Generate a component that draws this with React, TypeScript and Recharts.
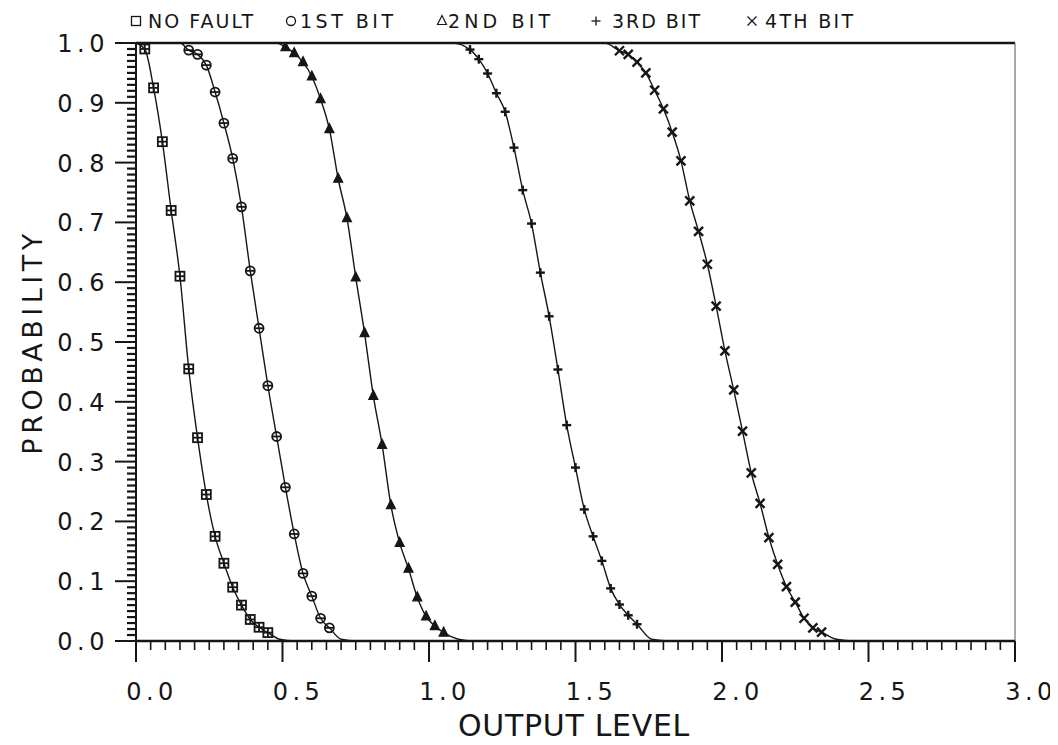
import React from 'react';
import { LineChart, Line, XAxis, YAxis, ReferenceLine } from 'recharts';

// tick labels
const xTickLabels = ['0.0', '0.5', '1.0', '1.5', '2.0', '2.5', '3.0'];
const yTickLabels = ['0.0', '0.1', '0.2', '0.3', '0.4', '0.5', '0.6', '0.7', '0.8', '0.9', '1.0'];
const xMinorTicks = Array.from({ length: 61 }, (_, i) => Number((i * 0.05).toFixed(2)));
const yMinorTicks = Array.from({ length: 101 }, (_, i) => Number((i * 0.01).toFixed(2)));

// NO FAULT (square markers)
const noFaultX = [0.03, 0.06, 0.09, 0.12, 0.15, 0.18, 0.21, 0.24, 0.27, 0.3, 0.33, 0.36, 0.39, 0.42, 0.45];
const noFaultY = [0.99, 0.925, 0.835, 0.72, 0.61, 0.455, 0.34, 0.245, 0.175, 0.13, 0.09, 0.06, 0.036, 0.023, 0.014];
const noFaultHead = [[0, 1]];
const noFaultTail = [[0.49, 0.003], [0.54, 0], [3, 0]];

// 1ST BIT (circle markers)
const bit1X = [0.18, 0.21, 0.24, 0.27, 0.3, 0.33, 0.36, 0.39, 0.42, 0.45, 0.48, 0.51, 0.54, 0.57, 0.6, 0.63, 0.66];
const bit1Y = [0.988, 0.981, 0.963, 0.918, 0.866, 0.807, 0.726, 0.619, 0.523, 0.427, 0.342, 0.257, 0.179, 0.113, 0.075, 0.038, 0.022];
const bit1Head = [[0, 1], [0.15, 1]];
const bit1Tail = [[0.7, 0.003], [0.75, 0], [3, 0]];

// 2ND BIT (triangle markers)
const bit2X = [0.51, 0.54, 0.57, 0.6, 0.63, 0.66, 0.69, 0.72, 0.75, 0.78, 0.81, 0.84, 0.87, 0.9, 0.93, 0.96, 0.99, 1.02, 1.05];
const bit2Y = [0.993, 0.983, 0.968, 0.944, 0.906, 0.856, 0.773, 0.707, 0.608, 0.515, 0.41, 0.328, 0.227, 0.164, 0.121, 0.073, 0.041, 0.025, 0.014];
const bit2Head = [[0, 1], [0.48, 1]];
const bit2Tail = [[1.1, 0.003], [1.15, 0], [3, 0]];

// 3RD BIT (plus markers)
const bit3X = [1.14, 1.17, 1.2, 1.23, 1.26, 1.29, 1.32, 1.35, 1.38, 1.41, 1.44, 1.47, 1.5, 1.53, 1.56, 1.59, 1.62, 1.65, 1.68, 1.71];
const bit3Y = [0.989, 0.973, 0.949, 0.916, 0.885, 0.825, 0.754, 0.698, 0.616, 0.543, 0.454, 0.361, 0.29, 0.22, 0.175, 0.134, 0.088, 0.061, 0.043, 0.028];
const bit3Head = [[0, 1], [1.08, 1]];
const bit3Tail = [[1.76, 0.003], [1.82, 0], [3, 0]];

// 4TH BIT (cross markers)
const bit4X = [1.65, 1.68, 1.71, 1.74, 1.77, 1.8, 1.83, 1.86, 1.89, 1.92, 1.95, 1.98, 2.01, 2.04, 2.07, 2.1, 2.13, 2.16, 2.19, 2.22, 2.25, 2.28, 2.31, 2.34];
const bit4Y = [0.987, 0.981, 0.968, 0.95, 0.921, 0.89, 0.851, 0.803, 0.736, 0.685, 0.63, 0.56, 0.485, 0.42, 0.351, 0.281, 0.23, 0.173, 0.128, 0.091, 0.065, 0.038, 0.022, 0.015];
const bit4Head = [[0, 1], [1.6, 1]];
const bit4Tail = [[2.39, 0.003], [2.45, 0], [3, 0]];

const INK = '#161616';
const FONT = '"DejaVu Sans", sans-serif';

type Pt = { x: number; y: number; mark: boolean };

const buildCurve = (head: number[][], xs: number[], ys: number[], tail: number[][]): Pt[] => [
  ...head.map(([x, y]) => ({ x, y, mark: false })),
  ...xs.map((x, i) => ({ x, y: ys[i], mark: true })),
  ...tail.map(([x, y]) => ({ x, y, mark: false })),
];

const series = [
  { key: 'noFault', kind: 'square', data: buildCurve(noFaultHead, noFaultX, noFaultY, noFaultTail) },
  { key: 'bit1', kind: 'circle', data: buildCurve(bit1Head, bit1X, bit1Y, bit1Tail) },
  { key: 'bit2', kind: 'triangle', data: buildCurve(bit2Head, bit2X, bit2Y, bit2Tail) },
  { key: 'bit3', kind: 'plus', data: buildCurve(bit3Head, bit3X, bit3Y, bit3Tail) },
  { key: 'bit4', kind: 'cross', data: buildCurve(bit4Head, bit4X, bit4Y, bit4Tail) },
];

// 標記符號
function Marker({ kind, cx, cy, s = 4.5, legend = false }: { kind: string; cx: number; cy: number; s?: number; legend?: boolean }) {
  const sw = legend ? 1.3 : 1.8;
  switch (kind) {
    case 'square':
      return (
        <g stroke={INK} strokeWidth={sw} fill="none">
          <rect x={cx - s} y={cy - s} width={s * 2} height={s * 2} />
          {!legend && <line x1={cx - s} x2={cx + s} y1={cy} y2={cy} />}
          {!legend && <line x1={cx} x2={cx} y1={cy - s} y2={cy + s} />}
        </g>
      );
    case 'circle':
      return (
        <g stroke={INK} strokeWidth={sw} fill="none">
          <circle cx={cx} cy={cy} r={s} />
          {!legend && <line x1={cx - s} x2={cx + s} y1={cy} y2={cy} />}
        </g>
      );
    case 'triangle':
      return (
        <path
          d={`M${cx},${cy - s - 1} L${cx + s},${cy + s - 1} L${cx - s},${cy + s - 1} Z`}
          stroke={INK}
          strokeWidth={1.2}
          fill={legend ? 'none' : INK}
        />
      );
    case 'plus':
      return (
        <g stroke={INK} strokeWidth={legend ? 1.3 : 2.4}>
          <line x1={cx - s} x2={cx + s} y1={cy} y2={cy} />
          <line x1={cx} x2={cx} y1={cy - s} y2={cy + s} />
        </g>
      );
    default:
      return (
        <g stroke={INK} strokeWidth={legend ? 1.3 : 2.4}>
          <line x1={cx - s} x2={cx + s} y1={cy - s} y2={cy + s} />
          <line x1={cx - s} x2={cx + s} y1={cy + s} y2={cy - s} />
        </g>
      );
  }
}

const XTick = (props: any) => {
  const { x, y, payload } = props;
  const v = payload.value as number;
  const major = Math.abs(v * 2 - Math.round(v * 2)) < 1e-6;
  return (
    <g>
      <line x1={x} x2={x} y1={y} y2={y + (major ? 21 : 9)} stroke={INK} strokeWidth={major ? 2 : 1.6} />
      {major && (
        <text x={x + 16} y={y + 59} textAnchor="middle" fontFamily={FONT} fontSize={24} letterSpacing={4.5} fill={INK}>
          {xTickLabels[Math.round(v * 2)]}
        </text>
      )}
    </g>
  );
};

const YTick = (props: any) => {
  const { x, y, payload } = props;
  const v = payload.value as number;
  const major = Math.abs(v * 10 - Math.round(v * 10)) < 1e-6;
  return (
    <g>
      <line x1={x - (major ? 21 : 9)} x2={x} y1={y} y2={y} stroke={INK} strokeWidth={major ? 2 : 2.2} />
      {major && (
        <text x={x - 27} y={y + 9} textAnchor="end" fontFamily={FONT} fontSize={24} letterSpacing={4.5} fill={INK}>
          {yTickLabels[Math.round(v * 10)]}
        </text>
      )}
    </g>
  );
};

const legendItems = [
  { kind: 'square', label: 'NO FAULT', mx: 128, tx: 140, w: 105 },
  { kind: 'circle', label: '1ST BIT', mx: 283, tx: 292, w: 93 },
  { kind: 'triangle', label: '2ND BIT', mx: 434, tx: 440, w: 102 },
  { kind: 'plus', label: '3RD BIT', mx: 588, tx: 604, w: 88 },
  { kind: 'cross', label: '4TH BIT', mx: 744, tx: 757, w: 88 },
];

export default function App() {
  return (
    <div style={{ position: 'relative', width: 1042, height: 729, background: '#fff' }}>
      <style>{`.recharts-wrapper, .recharts-surface { overflow: visible !important; }`}</style>
      <LineChart width={1042} height={729} margin={{ top: 35, right: 35, left: 0, bottom: 0 }}>
        <XAxis
          dataKey="x"
          type="number"
          domain={[0, 3]}
          ticks={xMinorTicks}
          interval={0}
          tickLine={false}
          tickSize={0}
          tickMargin={0}
          height={96}
          axisLine={{ stroke: INK, strokeWidth: 2.5 }}
          tick={(p: any) => <XTick {...p} />}
          allowDataOverflow
        />
        <YAxis
          type="number"
          domain={[0, 1]}
          ticks={yMinorTicks}
          interval={0}
          tickLine={false}
          tickSize={0}
          tickMargin={0}
          width={128}
          axisLine={{ stroke: INK, strokeWidth: 2 }}
          tick={(p: any) => <YTick {...p} />}
          allowDataOverflow
        />
        <ReferenceLine y={1} stroke={INK} strokeWidth={2.5} />
        <ReferenceLine x={3} stroke="#555" strokeWidth={1} />
        {series.map((s) => (
          <Line
            key={s.key}
            data={s.data}
            dataKey="y"
            type="monotone"
            stroke={INK}
            strokeWidth={1.4}
            isAnimationActive={false}
            activeDot={false}
            dot={(p: any) =>
              p.payload.mark ? (
                <Marker key={`${s.key}-${p.index}`} kind={s.kind} cx={p.cx} cy={p.cy} />
              ) : (
                <g key={`${s.key}-${p.index}`} />
              )
            }
          />
        ))}
      </LineChart>
      <svg
        width={1042}
        height={737}
        style={{ position: 'absolute', left: 0, top: 0, pointerEvents: 'none' }}
      >
        {legendItems.map((it) => (
          <g key={it.label}>
            <Marker kind={it.kind} cx={it.mx} cy={13} s={4.5} legend />
            <text
              x={it.tx}
              y={20}
              fontFamily={FONT}
              fontSize={19}
              fill={INK}
              textLength={it.w}
              lengthAdjust="spacing"
            >
              {it.label}
            </text>
          </g>
        ))}
        <text
          x={24}
          y={334}
          transform="rotate(-90 24 334)"
          textAnchor="middle"
          dominantBaseline="central"
          fontFamily={FONT}
          fontSize={27}
          letterSpacing={4.5}
          fill={INK}
        >
          PROBABILITY
        </text>
        <text x={566} y={728} textAnchor="middle" fontFamily={FONT} fontSize={30} letterSpacing={0.7} fill={INK}>
          OUTPUT LEVEL
        </text>
      </svg>
    </div>
  );
}
